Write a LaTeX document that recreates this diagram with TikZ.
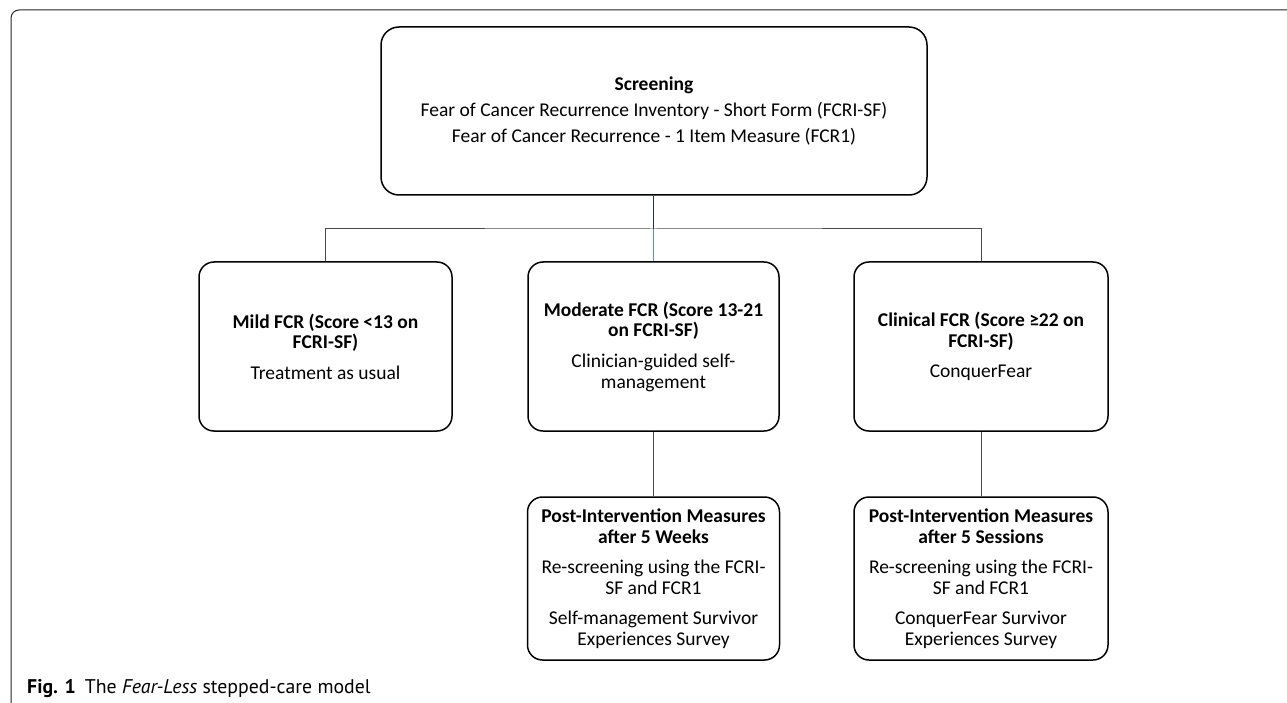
\documentclass[tikz,border=0pt]{standalone}
\usepackage{fontspec}
\setmainfont{Carlito}
\newfontfamily\capfont{PT Sans}
\definecolor{navyln}{HTML}{1F3250}
\definecolor{blueln}{HTML}{5B8FC9}
\definecolor{grayln}{HTML}{4A4A4A}
\begin{document}
\begin{tikzpicture}[x=1pt,y=-1pt,
  box/.style={draw=black, line width=1.5pt, rounded corners=15pt, align=center, inner sep=0pt,
    font=\fontsize{19.5}{20.8}\selectfont},
  link/.style={draw=grayln, line width=1pt}]
\useasboundingbox (0,0) rectangle (1287,703);
\fill[white] (0,0) rectangle (1287,703);
\draw[line width=1pt, draw=black!85, rounded corners=8pt] (11,703) -- (11,10) -- (1287,10);

\node[box, rounded corners=18pt, minimum width=546pt, minimum height=168pt] (scr) at (654,111)
  {\textbf{Screening}\\[5.5pt]
   Fear of Cancer Recurrence Inventory - Short Form (FCRI-SF)\\[5.5pt]
   Fear of Cancer Recurrence - 1 Item Measure (FCR1)};

\node[box, minimum width=253pt, minimum height=169pt] (mild) at (325.5,346.5)
  {\textbf{Mild FCR (Score <13 on}\\\textbf{FCRI-SF)}\\[9.5pt]Treatment as usual};
\node[box, minimum width=251pt, minimum height=169pt] (mod) at (653.5,346.5)
  {\textbf{Moderate FCR (Score 13-21}\\\textbf{on FCRI-SF)}\\[9.5pt]Clinician-guided self-\\management};
\node[box, minimum width=254pt, minimum height=169pt] (clin) at (981,346.5)
  {\textbf{Clinical FCR (Score ≥22 on}\\\textbf{FCRI-SF)}\\[9.5pt]ConquerFear};

\node[box, minimum width=252pt, minimum height=163pt] (post1) at (653.5,578.5)
  {\textbf{Post-Intervention Measures}\\\textbf{after 5 Weeks}\\[9.5pt]
   Re-screening using the FCRI-\\SF and FCR1\\[9.5pt]
   Self-management Survivor\\Experiences Survey};
\node[box, minimum width=254pt, minimum height=163pt] (post2) at (981,578.5)
  {\textbf{Post-Intervention Measures}\\\textbf{after 5 Sessions}\\[9.5pt]
   Re-screening using the FCRI-\\SF and FCR1\\[9.5pt]
   ConquerFear Survivor\\Experiences Survey};

\coordinate (hm) at (653.5,229);
\draw[link] (mild.north) |- (hm) -| (clin.north);
\draw[draw=navyln, line width=1pt] (scr.south -| hm) -- (hm);
\draw[draw=blueln, line width=1pt] (hm) -- (mod.north);
\draw[link] (mod.south) -- (post1.north);
\draw[link] (clin.south) -- (post2.north);

\node[anchor=base west, inner sep=0pt, font=\capfont\fontsize{19.8}{22}\selectfont] (cap) at (27,693)
  {\textbf{Fig. 1}\hspace{0.45em}The \textit{Fear-Less} stepped-care model};
\end{tikzpicture}
\end{document}
